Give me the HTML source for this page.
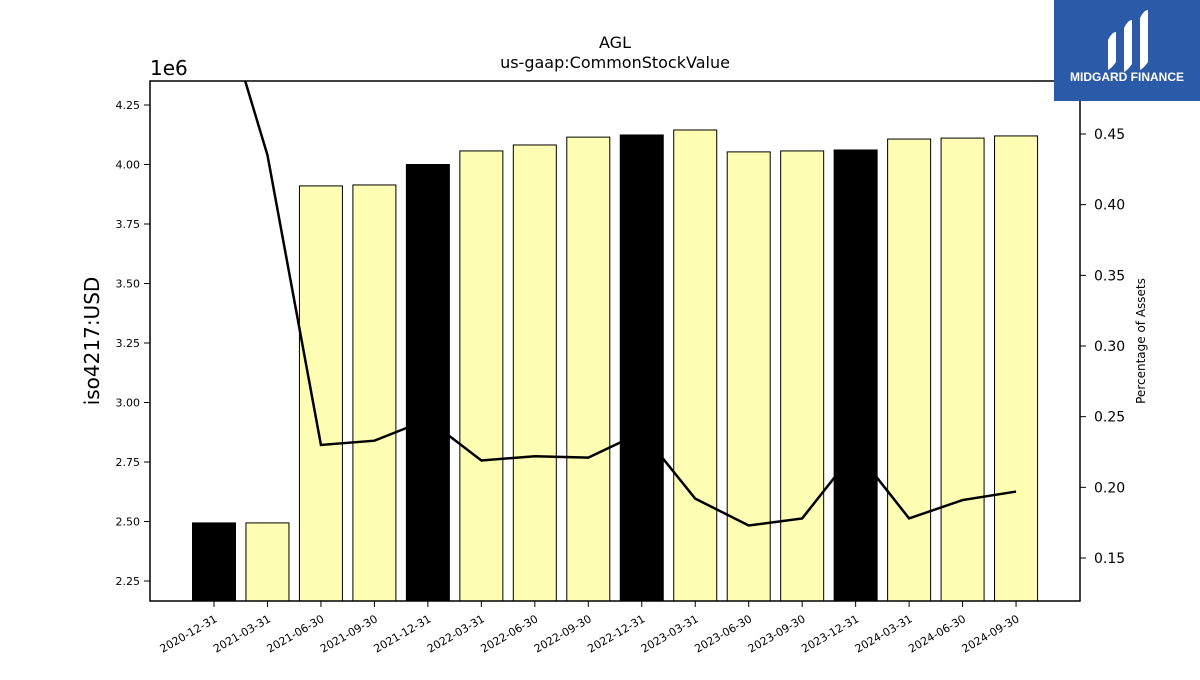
<!DOCTYPE html>
<html><head><meta charset="utf-8"><style>
body{margin:0;background:#fff;font-family:"Liberation Sans","DejaVu Sans",sans-serif}
svg text{font-family:"DejaVu Sans","Liberation Sans",sans-serif}
</style></head><body>
<svg id="c" width="1200" height="675">
<rect x="0" y="0" width="1200" height="675" fill="#fff"/>
<g id="bars"></g>
<g id="lineg"></g>
<rect x="150" y="81" width="930" height="520" fill="none" stroke="#000" stroke-width="1.5"/>
<g id="axes"></g>
<text x="615" y="48" text-anchor="middle" font-size="16">AGL</text>
<text x="615" y="68" text-anchor="middle" font-size="16">us-gaap:CommonStockValue</text>
<text x="150" y="75" font-size="20">1e6</text>
<text transform="translate(99,341) rotate(-90)" text-anchor="middle" font-size="20">iso4217:USD</text>
<text transform="translate(1145,341) rotate(-90)" text-anchor="middle" font-size="12">Percentage of Assets</text>
<g>
<rect x="1054" y="0" width="146" height="101" fill="#2b5aa8"/>
<path d="M1108 40 q4-8 8-8 v30 q-4 6-8 8z M1124 28 q4-8 8-8 v44 q-4 6-8 8z M1140 18 q4-8 8-8 v52 q-4 6-8 8z" fill="#fff"/>
<text x="1127" y="81" text-anchor="middle" font-size="12" font-weight="bold" fill="#fff" style="font-family:'Liberation Sans',sans-serif">MIDGARD FINANCE</text>
</g>
</svg>
<script>
const categories=["2020-12-31","2021-03-31","2021-06-30","2021-09-30","2021-12-31","2022-03-31","2022-06-30","2022-09-30","2022-12-31","2023-03-31","2023-06-30","2023-09-30","2023-12-31","2024-03-31","2024-06-30","2024-09-30"];
const values=[2.494,2.494,3.91,3.914,4.0,4.057,4.082,4.115,4.124,4.145,4.053,4.057,4.061,4.107,4.111,4.12];
const pct=[0.561,0.435,0.23,0.233,0.248,0.219,0.222,0.221,0.239,0.192,0.173,0.178,0.226,0.178,0.191,0.197];
const leftTicks=[2.25,2.5,2.75,3.0,3.25,3.5,3.75,4.0,4.25];
const rightTicks=[0.15,0.2,0.25,0.3,0.35,0.4,0.45];
const NS="http://www.w3.org/2000/svg";
const X0=150,X1=1080,Y0=81,Y1=601;
const yL=v=>581-(v-2.25)*238;
const yR=v=>558-(v-0.15)*1413.33;
const xC=i=>214+i*53.47;
const bars=document.getElementById('bars'),axes=document.getElementById('axes'),lg=document.getElementById('lineg');
function mk(t,a,p){const e=document.createElementNS(NS,t);for(const k in a)e.setAttribute(k,a[k]);p.appendChild(e);return e;}
categories.forEach((c,i)=>{
 const top=yL(values[i]);
 const r=mk('rect',{x:xC(i)-21.5,y:top,width:43,height:Y1-top,fill:c.endsWith('12-31')?'#000':'#fdfdb3',stroke:'#000','stroke-width':1},bars);
 
 
 const t=mk('line',{x1:xC(i),x2:xC(i),y1:Y1,y2:Y1+6,stroke:'#000'},axes);
 
 
 const l=mk('text',{'font-size':11,'text-anchor':'end',transform:`translate(${xC(i)+4},${Y1+20}) rotate(-30)`},axes);
 l.textContent=c;
 
 
});
mk('clipPath',{id:'clp'},lg);
mk('rect',{x:X0,y:Y0,width:X1-X0,height:Y1-Y0},document.getElementById('clp'));
const pl=mk('polyline',{points:pct.map((v,i)=>xC(i)+','+yR(v)).join(' '),fill:'none',stroke:'#000','stroke-width':2.5,'clip-path':'url(#clp)'},lg);


leftTicks.forEach(v=>{
 const y=yL(v);
 const t=mk('line',{x1:X0-6,x2:X0,y1:y,y2:y,stroke:'#000'},axes);
 
 
 const l=mk('text',{x:X0-10,y:y+4,'font-size':11,'text-anchor':'end'},axes);
 l.textContent=v.toFixed(2);
 
 
});
rightTicks.forEach(v=>{
 const y=yR(v);
 const t=mk('line',{x1:X1,x2:X1+6,y1:y,y2:y,stroke:'#000'},axes);
 
 
 const l=mk('text',{x:X1+14,y:y+5,'font-size':14},axes);
 l.textContent=v.toFixed(2);
 
 
});
</script>
</body></html>
